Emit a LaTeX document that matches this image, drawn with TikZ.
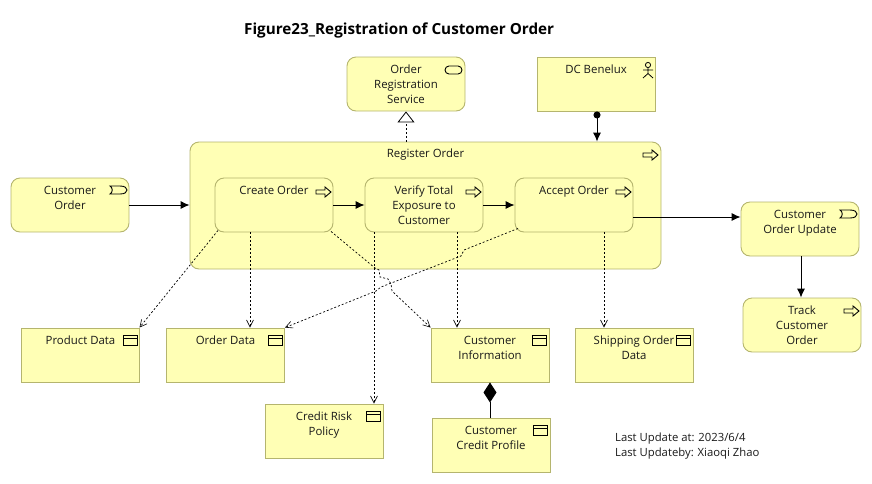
\documentclass[tikz,border=0pt]{standalone}
\usepackage{fontspec}
\setmainfont{Open Sans}
\usetikzlibrary{arrows.meta,calc}
\definecolor{archi}{HTML}{FFFFB5}
\definecolor{archiline}{HTML}{B5B56E}
\tikzset{
  x=1pt,y=-1pt,
  elem/.style={draw=archiline,fill=archi,line width=0.9pt,minimum width=118pt,minimum height=54pt,inner sep=0pt},
  rnd/.style={elem,rounded corners=9pt},
  square/.style={elem},
  txt/.style={font=\fontsize{11.4}{15}\selectfont,align=center,anchor=north,inner sep=0pt,text=black!90},
  flow/.style={draw=black,line width=0.9pt,-{Latex[length=9pt,width=8pt]}},
  access/.style={draw=black,line width=0.7pt,dash pattern=on 2pt off 2pt,-{Straight Barb[length=7pt,width=7pt,line width=0.6pt]}},
  icon/.style={draw=black,line width=0.9pt,fill=archi},
  procicon/.pic={\draw[icon] (-15,-2) -- (-6,-2) -- (-6,-5) -- (0,0) -- (-6,5) -- (-6,2) -- (-15,2) -- cycle;},
  dataicon/.pic={\draw[icon] (-14,0) rectangle (0,10); \draw[icon] (-14,3) -- (0,3);},
  eventicon/.pic={\draw[icon] (-17,-4) -- (-7,-4) .. controls (-2,-4) and (0,-2) .. (0,0) .. controls (0,2) and (-2,4) .. (-7,4) -- (-17,4) .. controls (-14,2) and (-14,-2) .. (-17,-4) -- cycle;},
  serviceicon/.pic={\draw[icon,rounded corners=4pt] (-17,-4) rectangle (0,4);},
  actoricon/.pic={\draw[draw=black,line width=0.8pt] (0,3) circle (2.6) (0,5.6) -- (0,11.5) (-5,8) -- (5,8) (-5,16) -- (0,11.5) -- (5,16);},
}
\begin{document}
\begin{tikzpicture}
\useasboundingbox (0,0) rectangle (872,483);
% title
\node[font=\fontsize{15.25}{18}\selectfont\bfseries,anchor=west,inner sep=0pt] (title) at (244,30) {Figure23\_Registration of Customer Order};
% main process container
\node[rnd,minimum width=471pt,minimum height=127pt] (reg) at (425.5,205.5) {};
\node[txt] (regt) at ([yshift=-7pt]reg.north) {Register Order};
\pic at (658,155) {procicon};
% elements
\node[rnd] (svc) at (406,84) {};
\node[txt] (svct) at ([yshift=-8pt]svc.north) {Order\\Registration\\Service};
\pic at (462,70) {serviceicon};
\node[square] (dc) at (596,84) {};
\node[txt] (dct) at ([yshift=-8pt]dc.north) {DC Benelux};
\pic at (648,62) {actoricon};
\node[rnd] (co) at (70,205) {};
\node[txt] (cot) at ([yshift=-8pt]co.north) {Customer\\Order};
\pic at (127,190) {eventicon};
\node[rnd] (create) at (274,205) {};
\node[txt] (createt) at ([yshift=-8pt]create.north) {Create Order};
\pic at (331,192) {procicon};
\node[rnd] (verify) at (424,205) {};
\node[txt] (verifyt) at ([yshift=-8pt]verify.north) {Verify Total\\Exposure to\\Customer};
\pic at (481,192) {procicon};
\node[rnd] (accept) at (574,205) {};
\node[txt] (acceptt) at ([yshift=-8pt]accept.north) {Accept Order};
\pic at (631,192) {procicon};
\node[rnd] (upd) at (800,229) {};
\node[txt] (updt) at ([yshift=-8pt]upd.north) {Customer\\Order Update};
\pic at (857,214) {eventicon};
\node[rnd] (track) at (802,325) {};
\node[txt] (trackt) at ([yshift=-8pt]track.north) {Track\\Customer\\Order};
\pic at (859,311) {procicon};
\node[square] (prod) at (80.5,355) {};
\node[txt] (prodt) at ([yshift=-8pt]prod.north) {Product Data};
\pic at (137,335) {dataicon};
\node[square] (ord) at (225.5,355) {};
\node[txt] (ordt) at ([yshift=-8pt]ord.north) {Order Data};
\pic at (282,335) {dataicon};
\node[square] (info) at (490,355) {};
\node[txt] (infot) at ([yshift=-8pt]info.north) {Customer\\Information};
\pic at (546,335) {dataicon};
\node[square] (ship) at (634,355) {};
\node[txt] (shipt) at ([yshift=-8pt]ship.north) {Shipping Order\\Data};
\pic at (690,335) {dataicon};
\node[square] (risk) at (324,431) {};
\node[txt] (riskt) at ([yshift=-8pt]risk.north) {Credit Risk\\Policy};
\pic at (380,411) {dataicon};
\node[square] (prof) at (491,445) {};
\node[txt] (proft) at ([yshift=-8pt]prof.north) {Customer\\Credit Profile};
\pic at (547,425) {dataicon};
% free text
\node[txt,anchor=north west,font=\fontsize{11.3}{14.5}\selectfont,align=left] (upnote) at (615,433) {Last Update at: 2023/6/4\\Last Updateby: Xiaoqi Zhao};
% solid connectors
\draw[flow] (co.east) -- (co.east -| reg.west);
\draw[flow] (create.east) -- (verify.west);
\draw[flow] (verify.east) -- (accept.west);
\coordinate (ae) at ([yshift=-12pt]accept.east);
\draw[flow] (ae) -- (ae -| upd.west);
\coordinate (us) at ([xshift=1pt]upd.south);
\draw[flow] (us) -- (us |- track.north);
\coordinate (ds) at ([xshift=1pt]dc.south);
\draw[draw=black,line width=0.9pt,{Circle[length=7pt]}-{Latex[length=9pt,width=8pt]}] (ds) -- (ds |- reg.north);
\draw[black,line width=0.9pt,{Diamond[length=20pt,width=13pt]}-] (info.south) -- (info.south |- prof.north);
% realisation
\draw[draw=black,line width=0.7pt,dash pattern=on 2pt off 2pt,-{Triangle[open,fill=white,length=11pt,width=17pt,line width=0.8pt]}] (svc.south |- reg.north) -- (svc.south);
% access relations
\draw[access] ([xshift=-56pt,yshift=2pt]create.south) -- ([xshift=59pt]prod.north);
\coordinate (c1) at ([xshift=-24pt]create.south);
\draw[access] (c1) -- (c1 |- ord.north);
\coordinate (h1) at (375,268);
\coordinate (h2) at (379,270);
\coordinate (h3) at (380,277);
\coordinate (h4) at (388,279);
\coordinate (h5) at (391,284);
\coordinate (h6) at (392,291);
\draw[access] ([xshift=57pt,yshift=1pt]create.south) -- (h1) -- (h2) -- (h3) -- (h4) -- (h5) -- (h6) -- (info.north west);
\coordinate (v1) at ([xshift=-50pt]verify.south);
\draw[access] (v1) -- (v1 |- risk.north);
\coordinate (v2) at ([xshift=33pt]verify.south);
\draw[access] (v2) -- (v2 |- info.north);
\coordinate (k1) at (464,250);
\coordinate (k2) at (461,256);
\coordinate (k3) at (381,287);
\coordinate (k4) at (376,291);
\draw[access] ([xshift=-56pt,yshift=4pt]accept.south) -- (k1) -- (k2) -- (k3) -- (k4) -- (ord.north east);
\coordinate (a1) at ([xshift=30pt]accept.south);
\draw[access] (a1) -- (a1 |- ship.north);
\end{tikzpicture}
\end{document}
